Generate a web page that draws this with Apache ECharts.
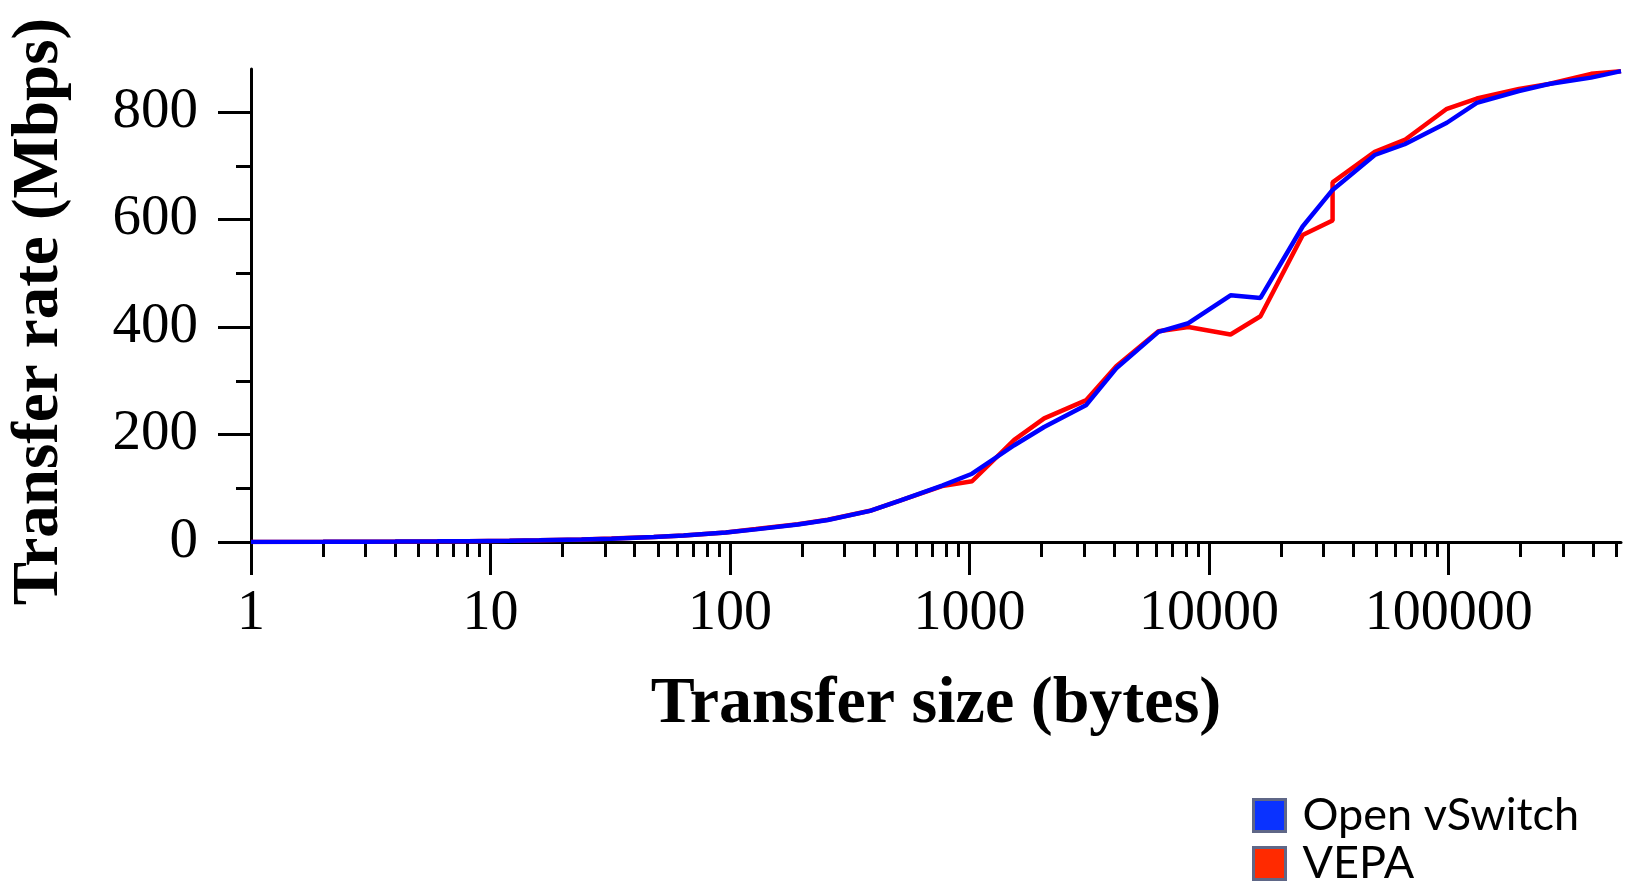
<!DOCTYPE html>
<html><head><meta charset="utf-8">
<script src="https://cdn.jsdelivr.net/npm/echarts@6/dist/echarts.min.js"></script>
<style>html,body{margin:0;padding:0;background:#fff}#c{width:1629px;height:890px}</style>
</head><body><div id="c"></div>
<script>
const sizes = [1, 2, 3, 4, 6, 8, 12, 16, 24, 32, 48, 64, 96, 128, 192, 256, 384, 512, 768, 1024,
  1536, 2048, 3072, 4096, 6144, 8192, 12288, 16384, 24576, 32768, 32768, 49152, 65536, 98304,
  131072, 196608, 262144, 393216, 524288];
const openVSwitch = [0.2, 0.4, 0.6, 0.8, 1.2, 1.6, 2.4, 3.2, 4.7, 6.2, 9.2, 12, 17.5, 23.5, 32.5, 41, 58, 77, 105, 127,
  180, 214, 255, 323, 391, 407, 459, 454, 587, 655, 658, 720, 740, 780,
  817, 839, 852, 864, 876];
const vepa = [0.2, 0.4, 0.6, 0.8, 1.2, 1.6, 2.4, 3.2, 4.8, 6.3, 9.4, 12.3, 17.8, 24, 33, 41.5, 58, 77, 104, 113,
  190, 230, 264, 327, 392, 400, 386, 420, 571, 598, 669, 726, 748, 806,
  825, 843, 852, 871, 876];
const xMajorTicks = [1, 10, 100, 1000, 10000, 100000];
const xMinorTicks = [2, 3, 4, 5, 6, 7, 8, 9, 20, 30, 40, 50, 60, 70, 80, 90,
  200, 300, 400, 500, 600, 700, 800, 900, 2000, 3000, 4000, 5000, 6000, 7000, 8000, 9000,
  20000, 30000, 40000, 50000, 60000, 70000, 80000, 90000, 200000, 300000, 400000, 500000];
const yMajorTicks = [0, 200, 400, 600, 800];
const yMinorTicks = [100, 300, 500, 700];
const seriesNames = ['Open vSwitch', 'VEPA'];
const legendColors = ['#0a32ff', '#ff2a00'];

const chart = echarts.init(document.getElementById('c'), null, {renderer: 'canvas'});
const serif = 'Liberation Serif, Times New Roman, serif';
const tickStyle = {color: '#000', width: 3};
const xCommon = {type: 'log', logBase: 10, min: 1, max: 524288, gridIndex: 0, position: 'bottom', splitLine: {show: false}};
const yCommon = {type: 'value', min: 0, max: 880, gridIndex: 0, position: 'left', splitLine: {show: false}};
const legendCommon = {
  orient: 'vertical', left: 1252, padding: 0, itemWidth: 32, itemHeight: 32, icon: 'rect', height: 60,
  itemStyle: {borderColor: '#5f6787', borderWidth: 3},
  textStyle: {fontFamily: 'Lato, sans-serif', fontSize: 45, color: '#000', padding: [0, 0, 0, 12], lineHeight: 32}
};
chart.setOption({
  animation: false,
  backgroundColor: '#fff',
  grid: {left: 250, right: 8, top: 69, bottom: 348},
  xAxis: [
    Object.assign({}, xCommon, {
      axisLine: {show: true, onZero: false, lineStyle: tickStyle},
      axisTick: {show: true, customValues: xMajorTicks, length: 33, lineStyle: tickStyle},
      axisLabel: {show: true, customValues: xMajorTicks, margin: 44, fontFamily: serif, fontSize: 56, color: '#000',
        formatter: v => String(Math.round(v))},
      name: 'Transfer size (bytes)', nameLocation: 'middle', nameGap: 130,
      nameTextStyle: {fontFamily: serif, fontWeight: 'bold', fontSize: 66, color: '#000'}
    }),
    Object.assign({}, xCommon, {
      axisLine: {show: false, onZero: false},
      axisTick: {show: true, customValues: xMinorTicks, length: 15, lineStyle: tickStyle},
      axisLabel: {show: false}
    })
  ],
  yAxis: [
    Object.assign({}, yCommon, {
      axisLine: {show: true, onZero: false, lineStyle: tickStyle},
      axisTick: {show: true, customValues: yMajorTicks, length: 33, lineStyle: tickStyle},
      axisLabel: {show: true, customValues: yMajorTicks, margin: 53, fontFamily: serif, fontSize: 57, color: '#000'},
      name: 'Transfer rate (Mbps)', nameLocation: 'middle', nameGap: 178,
      nameTextStyle: {fontFamily: serif, fontWeight: 'bold', fontSize: 65, color: '#000', padding: [0, 12, 0, 0]}
    }),
    Object.assign({}, yCommon, {
      axisLine: {show: false, onZero: false},
      axisTick: {show: true, customValues: yMinorTicks, length: 15, lineStyle: tickStyle},
      axisLabel: {show: false}
    })
  ],
  legend: [
    Object.assign({}, legendCommon, {top: 793,
      data: [{name: seriesNames[0], itemStyle: {color: legendColors[0], borderColor: '#5f6787', borderWidth: 3}}]}),
    Object.assign({}, legendCommon, {top: 841,
      data: [{name: seriesNames[1], itemStyle: {color: legendColors[1], borderColor: '#5f6787', borderWidth: 3}}]})
  ],
  series: [
    {name: seriesNames[1], type: 'line', xAxisIndex: 0, yAxisIndex: 0, showSymbol: false, symbol: 'none',
      lineStyle: {color: '#ff0000', width: 4.5}, itemStyle: {color: legendColors[1]},
      data: sizes.map((s, i) => [s, vepa[i]])},
    {name: seriesNames[0], type: 'line', xAxisIndex: 0, yAxisIndex: 0, showSymbol: false, symbol: 'none',
      lineStyle: {color: '#0000ff', width: 4.5}, itemStyle: {color: legendColors[0]},
      data: sizes.map((s, i) => [s, openVSwitch[i]])}
  ]
});
</script></body></html>
